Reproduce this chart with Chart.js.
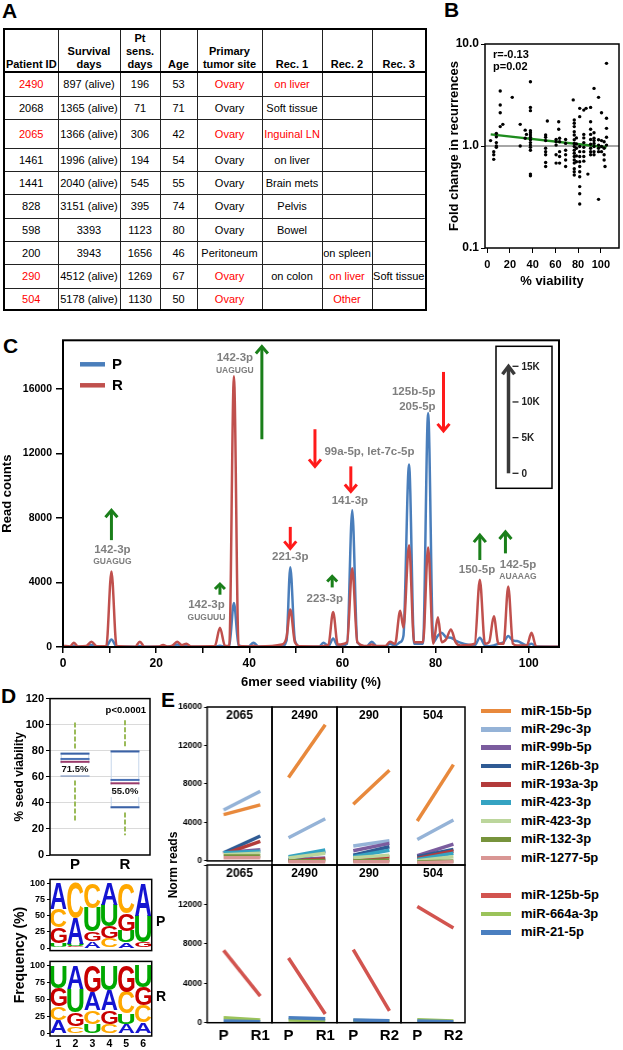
<!DOCTYPE html>
<html>
<head>
<meta charset="utf-8">
<title>Seed viability of miRNAs in primary and recurrent tumors</title>
<script src="https://cdn.jsdelivr.net/npm/chart.js@4.4.1/dist/chart.umd.min.js"></script>
<style>
  html, body { margin: 0; padding: 0; background: #fff; }
  body { font-family: "Liberation Sans", Arial, Helvetica, sans-serif; color: #000; }
  #page { position: relative; width: 623px; height: 1050px; overflow: hidden; }
  #page canvas { position: absolute; }
  .panel-letter { position: absolute; font-size: 21px; font-weight: bold; line-height: 21px; }
  .vtitle { position: absolute; font-weight: bold; text-align: center; white-space: nowrap; transform: rotate(-90deg); }
  .tag { position: absolute; font-weight: bold; line-height: 1; }
  #patients { position: absolute; left: 3px; top: 28px; border-collapse: collapse; table-layout: fixed; border: 2px solid #000; }
  #patients th, #patients td { border: 1.5px solid #222; padding: 0; text-align: center; font-size: 11px; white-space: nowrap; overflow: hidden; }
  #patients th { font-weight: bold; vertical-align: bottom; line-height: 13px; height: 41px; border-bottom: 2px solid #000; }
  #patients td { vertical-align: middle; }
  .red { color: #ff0000; }
  .leg { position: absolute; left: 481px; height: 18px; width: 142px; white-space: nowrap; font-weight: bold; font-size: 13px; }
  .leg i { position: absolute; left: 0; top: 7px; width: 30px; height: 4.5px; }
  .leg span { position: absolute; left: 40px; top: 0; line-height: 18px; }
</style>
</head>
<body>
<div id="page">
  <div class="panel-letter" style="left:2px;top:0px">A</div>
  <div class="panel-letter" style="left:444px;top:-1px">B</div>
  <div class="panel-letter" style="left:3px;top:335px">C</div>
  <div class="panel-letter" style="left:1px;top:685px">D</div>
  <div class="panel-letter" style="left:161px;top:689px">E</div>
  <table id="patients"></table>
</div>

<script>
// ---------- A: patient table ----------
const tableHead = ["Patient ID", "Survival<br>days", "Pt<br>sens.<br>days", "Age", "Primary<br>tumor site", "Rec. 1", "Rec. 2", "Rec. 3"];
const patientIds = ["2490", "2068", "2065", "1461", "1441", "828", "598", "200", "290", "504"];
const survivalDays = ["897 (alive)", "1365 (alive)", "1366 (alive)", "1996 (alive)", "2040 (alive)", "3151 (alive)", "3393", "3943", "4512 (alive)", "5178 (alive)"];
const sensDays = [196, 71, 306, 194, 545, 395, 1123, 1656, 1269, 1130];
const ages = [53, 71, 42, 54, 55, 74, 80, 46, 67, 50];
const primarySite = ["Ovary", "Ovary", "Ovary", "Ovary", "Ovary", "Ovary", "Ovary", "Peritoneum", "Ovary", "Ovary"];
const rec1 = ["on liver", "Soft tissue", "Inguinal LN", "on liver", "Brain mets", "Pelvis", "Bowel", "", "on colon", ""];
const rec2 = ["", "", "", "", "", "", "", "on spleen", "on liver", "Other"];
const rec3 = ["", "", "", "", "", "", "", "", "Soft tissue", ""];
const sequencedRec = [1, 0, 1, 0, 0, 0, 0, 0, 2, 2]; // which recurrence was sequenced (red)

// ---------- B: fold change vs % viability ----------
const viabB = [
  2.9, 5.7, 5.7, 5.7, 8, 8, 8, 8, 8,
  11.4, 11.4, 11.4, 11.4, 13.7, 22, 29, 29, 33.4, 33.4, 34.5,
  38, 38, 38, 38, 38, 38, 38, 38, 38, 38, 38, 38, 38, 38,
  51.4, 51.4, 51.4, 51.4, 51.4, 51.4, 51.4, 51.4, 52.9,
  60.6, 60.6, 60.6, 60.6, 60.6, 62.9, 62.9,
  63.7, 63.7, 63.7, 63.7, 63.7,
  69, 69, 69, 69, 69, 69,
  75.7,
  76.6, 76.6, 76.6, 76.6, 76.6, 76.6, 76.6, 76.6, 76.6, 76.6, 76.6, 76.6, 76.6, 76.6, 76.6, 76.6,
  78.5, 78.5, 78.5, 78.5, 78.5,
  81.4, 81.4, 81.4, 81.4, 81.4, 81.4, 81.4, 81.4, 81.4, 81.4, 81.4, 81.4,
  85, 85, 85, 85, 85, 85, 85, 85, 87, 88.6,
  91, 91, 91, 91, 91, 91, 91, 91, 91,
  94, 94, 94, 94, 94, 94, 94, 94,
  98, 98, 98, 98, 98, 98,
  100.6, 100.6, 100.6, 100.6,
  102.9, 102.9, 102.9, 102.9, 103.7,
  105, 105, 105, 105, 105
];
const foldB = [
  1.13, 0.88, 0.82, 0.74, 1.33, 1.23, 1.08, 1.0, 0.97,
  3.46, 2.52, 2.12, 1.55, 1.63, 3.0, 1.63, 1.0, 1.43, 1.19, 1.3,
  4.27, 2.39, 2.22, 1.41, 1.35, 1.28, 1.22, 1.15, 1.08, 1.02, 0.97, 0.91, 0.53, 0.51,
  1.28, 1.22, 1.13, 0.95, 0.88, 0.82, 0.69, 0.63, 1.76,
  1.16, 1.10, 1.02, 0.82, 0.68, 1.73, 1.46,
  1.19, 1.10, 0.88, 0.79, 0.68,
  1.16, 1.06, 0.91, 0.82, 0.73, 0.63,
  2.83,
  1.8, 1.67, 1.55, 1.38, 1.28, 1.15, 1.06, 0.99, 0.91, 0.85, 0.79, 0.73, 0.68, 0.6, 0.56, 0.52,
  1.2, 1.05, 0.95, 0.8, 0.7,
  2.34, 1.94, 0.99, 0.88, 0.79, 0.70, 0.63, 0.56, 0.5, 0.4, 0.34, 0.27,
  2.25, 1.3, 1.2, 1.08, 0.97, 0.88, 0.79, 0.71, 2.34, 0.53,
  2.39, 1.73, 1.46, 1.3, 1.16, 1.04, 0.95, 0.88, 0.82,
  3.67, 1.35, 1.19, 1.13, 1.06, 0.99, 0.88, 0.82,
  3.0, 1.15, 1.02, 0.95, 0.88, 0.30,
  2.12, 1.13, 0.99, 0.88,
  1.1, 0.95, 0.82, 0.73, 0.63,
  6.46, 1.87, 1.49, 1.22, 1.02
];
const fitX = [3, 105];
const fitY = [1.3, 0.97];
const statsB = ["r=-0.13", "p=0.02"];
const viabTicks = [0, 20, 40, 60, 80, 100];
const foldTicks = [0.1, 1, 10];

// ---------- C: read counts by 6mer seed viability ----------
const seedX = [0, 1.5, 2.3, 3.2, 5, 6.1, 7.3, 9.3, 10.4, 11.5,
  15.5, 16.5, 17.5, 20.5, 21.5, 22.5, 23.5, 24.5, 25.5, 26.5,
  27.5, 32.6, 33.7, 34.8, 35.7, 36.7, 37.7, 39.8, 40.9, 42,
  47, 48, 48.8, 49.8, 51, 55, 55.9, 57, 58, 59,
  61, 62.1, 63.2, 65.2, 66.3, 67.4, 69.2, 70.2, 71.3, 72.4,
  73.1, 74.3, 75.4, 77.3, 78.4, 79.5, 80.5, 81.3, 82.3, 83.3,
  84.3, 85.3, 88.4, 89.5, 90.6, 91.5, 92.5, 93.5, 94.6, 95.6,
  96.6, 97.5, 99.6, 100.6, 101.6, 106.5];
const readsR = [80, 30, 270, 30, 60, 330, 40, 60, 4670, 60,
  20, 330, 20, 30, 120, 30, 80, 330, 120, 200,
  30, 60, 1190, 60, 60, 16770, 60, 30, 80, 30,
  150, 600, 2320, 300, 40, 30, 60, 150, 2170, 150,
  300, 4880, 300, 60, 150, 60, 60, 330, 200, 2250,
  1200, 6310, 300, 300, 6170, 200, 1845, 300, 500, 1090,
  300, 100, 200, 4160, 200, 300, 1900, 200, 200, 3750,
  200, 100, 100, 880, 30, 20];
const readsP = [20, 10, 80, 10, 20, 120, 20, 40, 470, 40,
  20, 60, 20, 20, 60, 20, 30, 150, 40, 60,
  20, 20, 80, 30, 100, 2730, 100, 20, 270, 20,
  30, 400, 4940, 400, 20, 20, 270, 60, 530, 60,
  200, 8470, 300, 30, 330, 30, 30, 200, 100, 300,
  700, 11300, 200, 200, 14500, 300, 700, 880, 600, 575,
  400, 270, 100, 575, 100, 50, 100, 200, 300, 680,
  400, 370, 100, 200, 30, 20];
const readTicks = [0, 4000, 8000, 12000, 16000];
const seedTicks = [0, 10, 20, 30, 40, 50, 60, 70, 80, 90, 100];
// miRNA labels: text, viability, read count, font size
const peakLabels = [
  ["142-3p", 10.6, 6050, 11.5], ["GUAGUG", 10.6, 5290, 8.5],
  ["142-3p", 30.8, 2620, 11.5], ["GUGUUU", 30.8, 1845, 8.5],
  ["142-3p", 36.9, 17940, 11.5], ["UAGUGU", 36.9, 17140, 8.5],
  ["221-3p", 48.8, 5560, 11.5],
  ["223-3p", 56.2, 2970, 11.5],
  ["99a-5p, let-7c-5p", 65.8, 12100, 11.5],
  ["141-3p", 61.6, 9080, 11.5],
  ["125b-5p", 75.3, 15790, 11.5], ["205-5p", 76.1, 14880, 11.5],
  ["150-5p", 88.9, 4780, 11.5],
  ["142-5p", 97.7, 5080, 11.5], ["AUAAAG", 97.7, 4350, 8.5]
];
// change arrows: viability, from, to (read counts), up/down
const changeArrows = [
  [10.4, 6620, 8470, "up"], [33.7, 3240, 3900, "up"], [42.7, 12870, 18610, "up"],
  [48.8, 7440, 6110, "down"], [57.8, 3690, 4370, "up"], [54.1, 13490, 11190, "down"],
  [61.8, 11190, 9630, "down"], [81.7, 17040, 13390, "down"],
  [89.5, 5390, 6930, "up"], [95.0, 5800, 7130, "up"]
];
const scaleBarLabels = ["0", "5K", "10K", "15K"];

// ---------- D: seed viability box plot + logos ----------
const boxGroups = ["P", "R"];
const boxMin = [26.5, 15.2];
const boxQ1 = [61.1, 36.6];
const boxMedian = [71.5, 55.0];
const boxMean = [73.7, 57.6];
const boxQ3 = [77.8, 79.5];
const boxMax = [102.8, 104.8];
const viabilityTicks = [0, 20, 40, 60, 80, 100, 120];
const logoPos = ["1", "2", "3", "4", "5", "6"];
const pA = [40, 40, 10, 34, 9, 50];
const pC = [28, 54, 38, 15, 47, 0];
const pG = [25, 3, 15, 18, 27, 8];
const pU = [7, 3, 37, 33, 17, 42];
const rA = [20, 35, 27, 30, 14, 16];
const rC = [20, 11, 20, 14, 32, 25];
const rG = [27, 20, 39, 20, 39, 27];
const rU = [33, 34, 14, 36, 15, 32];
const freqTicks = [0, 25, 50, 75, 100];

// ---------- E: normalized reads P vs R ----------
const patientsE = ["2065", "2490", "290", "504"];
const recurE = ["R1", "R1", "R2", "R2"];
const upMirs = ["miR-15b-5p", "miR-29c-3p", "miR-99b-5p", "miR-126b-3p", "miR-193a-3p", "miR-423-3p", "miR-423-3p", "miR-132-3p", "miR-1277-5p"];
const upP = [
  [4815, 8860, 6160, 4450],
  [5290, 2760, 1920, 2590],
  [840, 500, 1450, 940],
  [840, 500, 1000, 840],
  [700, 400, 500, 670],
  [840, 840, 840, 570],
  [650, 700, 740, 440],
  [500, 400, 400, 300],
  [340, 340, 340, 235]
];
const upR = [
  [5830, 14210, 9600, 10170],
  [7240, 4680, 2460, 4550],
  [1150, 700, 2190, 2120],
  [2590, 1350, 1850, 1580],
  [2020, 600, 840, 1410],
  [1000, 1515, 1500, 1180],
  [800, 1180, 1000, 840],
  [500, 450, 500, 400],
  [340, 340, 340, 340]
];
const downMirs = ["miR-125b-5p", "miR-664a-3p", "miR-21-5p"];
const downP = [[7340, 6570, 7410, 11790], [500, 270, 235, 300], [170, 500, 270, 170]];
const downR = [[2690, 875, 1210, 9600], [270, 200, 170, 170], [100, 400, 200, 100]];
const normTicks = [0, 4000, 8000, 12000, 16000];

const upColors = ["#e8893c", "#95b3d7", "#7b5c9e", "#2f5b94", "#b33b3b", "#35a3c2", "#bcd69c", "#77933c", "#d99694"];
const downColors = ["#d2544f", "#9bc35a", "#4a7fc0"];

// ---------- setup ----------
const FONT = '"Liberation Sans", Arial, Helvetica, sans-serif';
Chart.defaults.font.family = FONT;
Chart.defaults.color = "#000";
Chart.defaults.animation = false;
Chart.defaults.events = [];
Chart.defaults.plugins.legend.display = false;
Chart.defaults.plugins.tooltip.enabled = false;

const page = document.getElementById("page");

function makeCanvas(left, top, w, h) {
    const c = document.createElement("canvas");
    c.width = w; c.height = h;
    c.style.left = left + "px"; c.style.top = top + "px";
    c.style.width = w + "px"; c.style.height = h + "px";
    page.appendChild(c);
    return c;
}

function addDiv(cls, css, html) {
    const d = document.createElement("div");
    d.className = cls;
    d.style.cssText = css;
    d.innerHTML = html;
    page.appendChild(d);
    return d;
}

// fix axis thickness so plot areas land exactly where they should
function fit(size) {
    return function (scale) {
        if (scale.isHorizontal()) scale.height = size; else scale.width = size;
    };
}
function fixedTicks(values) {
    return function (scale) { scale.ticks = values.map(v => ({ value: v })); };
}

// black box around every plot area
Chart.register({
    id: "frame",
    defaults: { width: 1.5, color: "#000" },
    afterDraw(chart, args, opts) {
        const { ctx, chartArea: a } = chart;
        ctx.save();
        ctx.strokeStyle = opts.color;
        ctx.lineWidth = opts.width;
        ctx.strokeRect(a.left, a.top, a.right - a.left, a.bottom - a.top);
        ctx.restore();
    }
});

// ---------- A ----------
(function buildTable() {
    const table = document.getElementById("patients");
    const widths = [54, 62, 40, 37, 65, 60, 50, 54];
    const rowH = [24, 23, 29, 23, 23, 24, 23, 23, 24, 22];
    let html = "<colgroup>" + widths.map(w => `<col style="width:${w}px">`).join("") + "</colgroup>";
    html += "<tr>" + tableHead.map(h => `<th>${h}</th>`).join("") + "</tr>";
    patientIds.forEach((id, i) => {
        const red = sequencedRec[i] > 0;
        const cells = [
            [id, red], [survivalDays[i], false], [sensDays[i], false], [ages[i], false],
            [primarySite[i], red], [rec1[i], sequencedRec[i] === 1], [rec2[i], sequencedRec[i] === 2], [rec3[i], false]
        ];
        html += `<tr style="height:${rowH[i]}px">` +
            cells.map(c => `<td${c[1] ? ' class="red"' : ""}>${c[0]}</td>`).join("") + "</tr>";
    });
    table.innerHTML = html;
})();

// ---------- B ----------
new Chart(makeCanvas(440, 30, 183, 262), {
    type: "scatter",
    data: {
        datasets: [
            {
                data: viabB.map((v, i) => ({ x: v, y: foldB[i] })),
                pointRadius: 1.7, pointBackgroundColor: "#000", pointBorderWidth: 0
            },
            {
                type: "line",
                data: fitX.map((v, i) => ({ x: v, y: fitY[i] })),
                borderColor: "#1e8c1e", borderWidth: 2.5, pointRadius: 0
            }
        ]
    },
    options: {
        responsive: false,
        layout: { padding: { top: 14, right: 2, left: 0, bottom: 0 } },
        scales: {
            x: {
                type: "linear", min: -2, max: 116,
                afterFit: fit(44), afterBuildTicks: fixedTicks(viabTicks),
                border: { display: false },
                grid: { drawOnChartArea: false, tickLength: 5, color: "#000" },
                ticks: { font: { family: FONT, weight: "bold", size: 11 }, padding: 5 },
                title: { display: true, text: "% viability", font: { family: FONT, weight: "bold", size: 13 }, padding: { top: 0, bottom: 2.5 } }
            },
            y: {
                type: "logarithmic", min: 0.1, max: 10,
                afterFit: fit(45), afterBuildTicks: fixedTicks(foldTicks),
                border: { display: false },
                grid: { drawOnChartArea: false, tickLength: 4, color: "#000" },
                ticks: { font: { family: FONT, weight: "bold", size: 12 }, padding: 2, callback: v => Number(v).toFixed(1) },
                title: { display: true, text: "Fold change in recurrences", font: { family: FONT, weight: "bold", size: 13 }, padding: { top: 7, bottom: 0 } }
            }
        }
    },
    plugins: [{
        id: "bExtras",
        beforeDatasetsDraw(chart) {
            const { ctx, chartArea: a, scales: { y } } = chart;
            const yy = y.getPixelForValue(1);
            ctx.save();
            ctx.strokeStyle = "#a6a6a6"; ctx.lineWidth = 2;
            ctx.beginPath(); ctx.moveTo(a.left, yy); ctx.lineTo(a.right, yy); ctx.stroke();
            ctx.restore();
        },
        afterDraw(chart) {
            const { ctx, chartArea: a } = chart;
            ctx.save();
            ctx.font = "bold 11px " + FONT;
            ctx.fillStyle = "#000";
            ctx.textBaseline = "middle";
            statsB.forEach((t, i) => ctx.fillText(t, a.left + 8, a.top + 11 + i * 12));
            ctx.restore();
        }
    }]
});

// ---------- C ----------
function drawArrow(ctx, x, y0, y1, color, lw, hw, hl) {
    const dir = y1 < y0 ? 1 : -1;
    ctx.save();
    ctx.strokeStyle = color; ctx.lineWidth = lw; ctx.lineJoin = "miter"; ctx.lineCap = "butt";
    ctx.beginPath(); ctx.moveTo(x, y0); ctx.lineTo(x, y1 + dir); ctx.stroke();
    ctx.beginPath(); ctx.moveTo(x - hw, y1 + dir * hl); ctx.lineTo(x, y1); ctx.lineTo(x + hw, y1 + dir * hl); ctx.stroke();
    ctx.restore();
}

new Chart(makeCanvas(0, 330, 565, 362), {
    type: "line",
    data: {
        datasets: [
            {
                label: "R", data: seedX.map((x, i) => ({ x: x, y: readsR[i] })),
                borderColor: "#c0504d", borderWidth: 2.5, pointRadius: 0,
                cubicInterpolationMode: "monotone", order: 0
            },
            {
                label: "P", data: seedX.map((x, i) => ({ x: x, y: readsP[i] })),
                borderColor: "#4a7ebb", borderWidth: 2.5, pointRadius: 0,
                cubicInterpolationMode: "monotone", order: 1
            }
        ]
    },
    options: {
        responsive: false,
        layout: { padding: { top: 7, right: 6, left: 0, bottom: 0 } },
        scales: {
            x: {
                type: "linear", min: 0, max: 106.5,
                afterFit: fit(45), afterBuildTicks: fixedTicks(seedTicks),
                border: { display: false },
                grid: { drawOnChartArea: false, tickLength: 6, color: "#000", lineWidth: 1.5 },
                ticks: { font: { family: FONT, weight: "bold", size: 12 }, padding: 3, callback: v => (v % 20 === 0 ? String(v) : "") },
                title: { display: true, text: "6mer seed viability (%)", font: { family: FONT, weight: "bold", size: 13 }, padding: { top: 0, bottom: 2 } }
            },
            y: {
                min: 0, max: 19000,
                afterFit: fit(63), afterBuildTicks: fixedTicks(readTicks),
                border: { display: false },
                grid: { drawOnChartArea: false, tickLength: 7, color: "#000", lineWidth: 1.5 },
                ticks: { font: { family: FONT, weight: "bold", size: 10.5 }, padding: 4, callback: v => String(v) },
                title: { display: true, text: "Read counts", font: { family: FONT, weight: "bold", size: 13 }, padding: { top: 0, bottom: 0 } }
            }
        },
        plugins: { frame: { width: 2 } }
    },
    plugins: [{
        id: "cAnnotations",
        afterDraw(chart) {
            const { ctx, chartArea: a, scales: { x, y } } = chart;
            ctx.save();
            // miRNA labels
            ctx.fillStyle = "#7f7f7f";
            ctx.textAlign = "center"; ctx.textBaseline = "middle";
            peakLabels.forEach(([t, vx, vy, size]) => {
                ctx.font = "bold " + size + "px " + FONT;
                ctx.fillText(t, x.getPixelForValue(vx), y.getPixelForValue(vy));
            });
            // change arrows
            changeArrows.forEach(([vx, from, to, dir]) => {
                const color = dir === "up" ? "#1a7f1a" : "#ff1a1a";
                const px = x.getPixelForValue(vx);
                const p0 = y.getPixelForValue(from), p1 = y.getPixelForValue(to);
                const short = Math.abs(p1 - p0) < 15;
                drawArrow(ctx, px, p0, p1, color, 3, short ? 5 : 6, short ? 5 : 7);
            });
            // P / R legend
            [["P", "#4a7ebb"], ["R", "#c0504d"]].forEach(([t, c], i) => {
                const ly = a.top + 24 + i * 21;
                ctx.strokeStyle = c; ctx.lineWidth = 4.5;
                ctx.beginPath(); ctx.moveTo(a.left + 17, ly); ctx.lineTo(a.left + 42, ly); ctx.stroke();
                ctx.fillStyle = "#000"; ctx.font = "bold 15px " + FONT;
                ctx.textAlign = "left";
                ctx.fillText(t, a.left + 49, ly + 1);
            });
            // arrow-length scale inset
            const bx = a.right - 63, by = a.top + 6;
            ctx.strokeStyle = "#000"; ctx.lineWidth = 1.5;
            ctx.strokeRect(bx, by, 56, 142);
            const ax = bx + 12.5, zeroY = by + 127, fullY = by + 20;
            drawArrow(ctx, ax, zeroY, fullY, "#3a3a3a", 3.5, 6, 8);
            ctx.fillStyle = "#222"; ctx.font = "bold 10px " + FONT;
            ctx.textAlign = "left";
            scaleBarLabels.forEach((t, i) => {
                const ty = zeroY - (zeroY - fullY) * i / 3;
                ctx.strokeStyle = "#222"; ctx.lineWidth = 1.3;
                ctx.beginPath(); ctx.moveTo(ax + 4, ty); ctx.lineTo(ax + 10, ty); ctx.stroke();
                ctx.fillText(t, ax + 13, ty + 0.5);
            });
            ctx.restore();
        }
    }]
});

// ---------- D: box plot ----------
new Chart(makeCanvas(0, 690, 160, 185), {
    type: "bar",
    data: {
        labels: boxGroups,
        datasets: [{
            data: boxQ1.map((q, i) => [q, boxQ3[i]]),
            backgroundColor: "rgba(255,255,255,0)",
            borderColor: "#c3d4ea", borderWidth: 1.2, borderSkipped: false,
            barPercentage: 0.58, categoryPercentage: 1
        }]
    },
    options: {
        responsive: false,
        layout: { padding: { top: 6.7, right: 10, left: 0, bottom: 0 } },
        scales: {
            x: {
                afterFit: fit(20),
                border: { display: false },
                grid: { display: false, drawTicks: false },
                ticks: { font: { family: FONT, weight: "bold", size: 15 }, padding: 1 }
            },
            y: {
                min: 0, max: 120,
                afterFit: fit(50), afterBuildTicks: fixedTicks(viabilityTicks),
                border: { display: false },
                grid: {
                    color: c => (c.tick && c.tick.value > 0 && c.tick.value < 120 ? "#dadada" : "rgba(0,0,0,0)"),
                    tickColor: "#000", tickLength: 4, lineWidth: 1
                },
                ticks: { font: { family: FONT, weight: "bold", size: 11 }, padding: 2 },
                title: { display: true, text: "% seed viability", font: { family: FONT, weight: "bold", size: 12 }, padding: { top: 12, bottom: 0 } }
            }
        }
    },
    plugins: [{
        id: "boxStats",
        afterDatasetsDraw(chart) {
            const { ctx, chartArea: a, scales: { y } } = chart;
            ctx.save();
            chart.getDatasetMeta(0).data.forEach((bar, i) => {
                const cx = bar.x, half = bar.width / 2;
                // whiskers
                ctx.strokeStyle = "#9bbb59"; ctx.lineWidth = 2; ctx.setLineDash([5, 2]);
                ctx.beginPath();
                ctx.moveTo(cx, y.getPixelForValue(boxQ3[i] + 4)); ctx.lineTo(cx, y.getPixelForValue(boxMax[i]));
                ctx.moveTo(cx, y.getPixelForValue(boxQ1[i] - 4)); ctx.lineTo(cx, y.getPixelForValue(boxMin[i]));
                ctx.stroke();
                ctx.setLineDash([]);
                // quartiles, mean, median
                const hline = (v, color) => {
                    const py = y.getPixelForValue(v);
                    ctx.strokeStyle = color; ctx.lineWidth = 2;
                    ctx.beginPath(); ctx.moveTo(cx - half, py); ctx.lineTo(cx + half, py); ctx.stroke();
                };
                hline(boxQ3[i], "#3b62a6");
                hline(boxQ1[i], "#3b62a6");
                hline(boxMean[i], "#4a72b5");
                hline(boxMedian[i], "#9a3a6a");
                // median label
                const label = boxMedian[i].toFixed(1) + "%";
                ctx.font = "bold 9.5px " + FONT;
                const tw = ctx.measureText(label).width;
                const ly = y.getPixelForValue(boxMedian[i] - 6);
                ctx.fillStyle = "#fff";
                ctx.fillRect(cx - tw / 2 - 2, ly - 6, tw + 4, 12);
                ctx.fillStyle = "#111"; ctx.textAlign = "center"; ctx.textBaseline = "middle";
                ctx.fillText(label, cx, ly);
            });
            ctx.font = "bold 9.5px " + FONT;
            ctx.fillStyle = "#000"; ctx.textAlign = "right"; ctx.textBaseline = "middle";
            ctx.fillText("p<0.0001", a.right - 4, a.top + 12);
            ctx.restore();
        }
    }]
});

// ---------- D: sequence logos ----------
const nucColors = { A: "#1414d2", C: "#ffa800", G: "#c80000", U: "#00a800" };

function logoDatasets(freqs) {
    // stack letters smallest at the bottom, largest on top
    const ranks = [[], [], [], []];
    logoPos.forEach((p, i) => {
        const col = Object.keys(freqs).map(n => ({ n: n, v: freqs[n][i] })).sort((a, b) => a.v - b.v);
        col.forEach((item, r) => ranks[r].push(item));
    });
    return ranks.map(r => ({
        data: r.map(it => it.v),
        letters: r.map(it => it.n),
        backgroundColor: "rgba(0,0,0,0)",
        barPercentage: 1, categoryPercentage: 0.96
    }));
}

const logoPlugin = {
    id: "logoLetters",
    afterDatasetsDraw(chart) {
        const ctx = chart.ctx;
        chart.data.datasets.forEach((ds, di) => {
            chart.getDatasetMeta(di).data.forEach((bar, i) => {
                const top = Math.min(bar.y, bar.base), bot = Math.max(bar.y, bar.base);
                const h = bot - top;
                if (h < 0.6) return;
                const letter = ds.letters[i];
                const w = bar.width, left = bar.x - w / 2;
                ctx.save();
                ctx.font = "bold 100px " + FONT;
                const m = ctx.measureText(letter);
                const gw = m.actualBoundingBoxLeft + m.actualBoundingBoxRight;
                const gh = m.actualBoundingBoxAscent + m.actualBoundingBoxDescent;
                ctx.translate(left, bot);
                ctx.scale(w / gw, h / gh);
                ctx.fillStyle = nucColors[letter];
                ctx.textBaseline = "alphabetic";
                ctx.fillText(letter, m.actualBoundingBoxLeft, -m.actualBoundingBoxDescent);
                ctx.restore();
            });
        });
    }
};

function logoChart(canvas, freqs, showX, padTop, padBottom) {
    return new Chart(canvas, {
        type: "bar",
        data: { labels: logoPos, datasets: logoDatasets(freqs) },
        options: {
            responsive: false,
            layout: { autoPadding: false, padding: { top: padTop, right: 26.3, left: 0, bottom: padBottom } },
            scales: {
                x: {
                    stacked: true,
                    afterFit: fit(showX ? 14 : 0),
                    border: { display: false },
                    grid: { display: false, drawTicks: false },
                    ticks: { display: showX, font: { family: FONT, weight: "bold", size: 10.5 }, padding: 2 }
                },
                y: {
                    stacked: true, min: -4, max: 106,
                    afterFit: fit(50), afterBuildTicks: fixedTicks(freqTicks),
                    border: { display: false },
                    grid: { drawOnChartArea: false, tickLength: 3, color: "#000" },
                    ticks: { font: { family: FONT, weight: "bold", size: 9 }, padding: 2 }
                }
            }
        },
        plugins: [logoPlugin]
    });
}

logoChart(makeCanvas(0, 872, 178, 86), { A: pA, C: pC, G: pG, U: pU }, false, 4, 2);
logoChart(makeCanvas(0, 954, 178, 96), { A: rA, C: rC, G: rG, U: rU }, true, 2, 0);

addDiv("vtitle", "font-size:14px;width:120px;height:16px;line-height:16px;left:-41px;top:947px;", "Frequency (%)");
addDiv("tag", "font-size:14px;left:156px;top:914px;", "P");
addDiv("tag", "font-size:14px;left:156px;top:989px;", "R");

// ---------- E ----------
const eCols = [206.7, 271.7, 336.7, 401, 465];
const eRowTop = [706.7, 865];
const eRowBottom = [865, 1022.7];

const panelTitle = {
    id: "panelTitle",
    afterDraw(chart, args, opts) {
        const { ctx, chartArea: a } = chart;
        ctx.save();
        ctx.font = "bold 12px " + FONT;
        ctx.fillStyle = "#000"; ctx.textAlign = "center"; ctx.textBaseline = "middle";
        ctx.fillText(opts.text, (a.left + a.right) / 2, a.top + 9);
        ctx.restore();
    }
};

function eChart(row, col) {
    const bottomRow = row === 1;
    const axisW = col === 0 ? 46.7 : 0;
    const axisH = bottomRow ? 27.3 : 0;
    const padL = col === 0 ? 0 : 3;
    const padT = 8;
    const padB = bottomRow ? 0 : 3;
    const plotW = eCols[col + 1] - eCols[col];
    const plotH = eRowBottom[row] - eRowTop[row];
    const left = eCols[col] - axisW - padL;
    const top = eRowTop[row] - padT;
    const width = plotW + axisW + padL + 3;
    const height = padT + plotH + axisH + padB;
    const names = bottomRow ? downMirs : upMirs;
    const pVals = bottomRow ? downP : upP;
    const rVals = bottomRow ? downR : upR;
    const colors = bottomRow ? downColors : upColors;
    const xLabels = ["P", recurE[col]];

    return new Chart(makeCanvas(left, top, width, height), {
        type: "line",
        data: {
            datasets: names.map((n, k) => ({
                label: n,
                data: [{ x: 0, y: pVals[k][col] }, { x: 1, y: rVals[k][col] }],
                borderColor: colors[k], borderWidth: 3.5, pointRadius: 0
            })).reverse()
        },
        options: {
            responsive: false,
            layout: { autoPadding: false, padding: { top: padT, right: 3, left: padL, bottom: padB } },
            scales: {
                x: {
                    type: "linear", min: -0.45, max: 1.32,
                    afterFit: fit(axisH), afterBuildTicks: fixedTicks([0, 1]),
                    border: { display: false },
                    grid: { display: false, drawTicks: false },
                    ticks: { display: bottomRow, font: { family: FONT, weight: "bold", size: 15 }, padding: 4, callback: v => xLabels[v] }
                },
                y: {
                    min: 0, max: 16000,
                    afterFit: fit(axisW), afterBuildTicks: fixedTicks(normTicks),
                    border: { display: false },
                    grid: { drawOnChartArea: false, drawTicks: col === 0, tickLength: 3, color: "#000" },
                    ticks: {
                        display: col === 0,
                        font: { family: FONT, weight: "bold", size: 8.5 }, padding: 2,
                        callback: v => (bottomRow && v === 16000 ? "" : String(v))
                    }
                }
            },
            plugins: { panelTitle: { text: patientsE[col] } }
        },
        plugins: [panelTitle]
    });
}

for (let r = 0; r < 2; r++) {
    for (let c = 0; c < 4; c++) eChart(r, c);
}

addDiv("vtitle", "font-size:12px;width:100px;height:14px;line-height:14px;left:123px;top:858px;", "Norm reads");

// legend for E
upMirs.forEach((n, k) => {
    const cy = 710.7 + k * 18.35;
    addDiv("leg", `top:${cy - 9}px;`, `<i style="background:${upColors[k]}"></i><span>${n}</span>`);
});
downMirs.forEach((n, k) => {
    const cy = 895 + k * 18.5;
    addDiv("leg", `top:${cy - 9}px;`, `<i style="background:${downColors[k]}"></i><span>${n}</span>`);
});
</script>
</body>
</html>
